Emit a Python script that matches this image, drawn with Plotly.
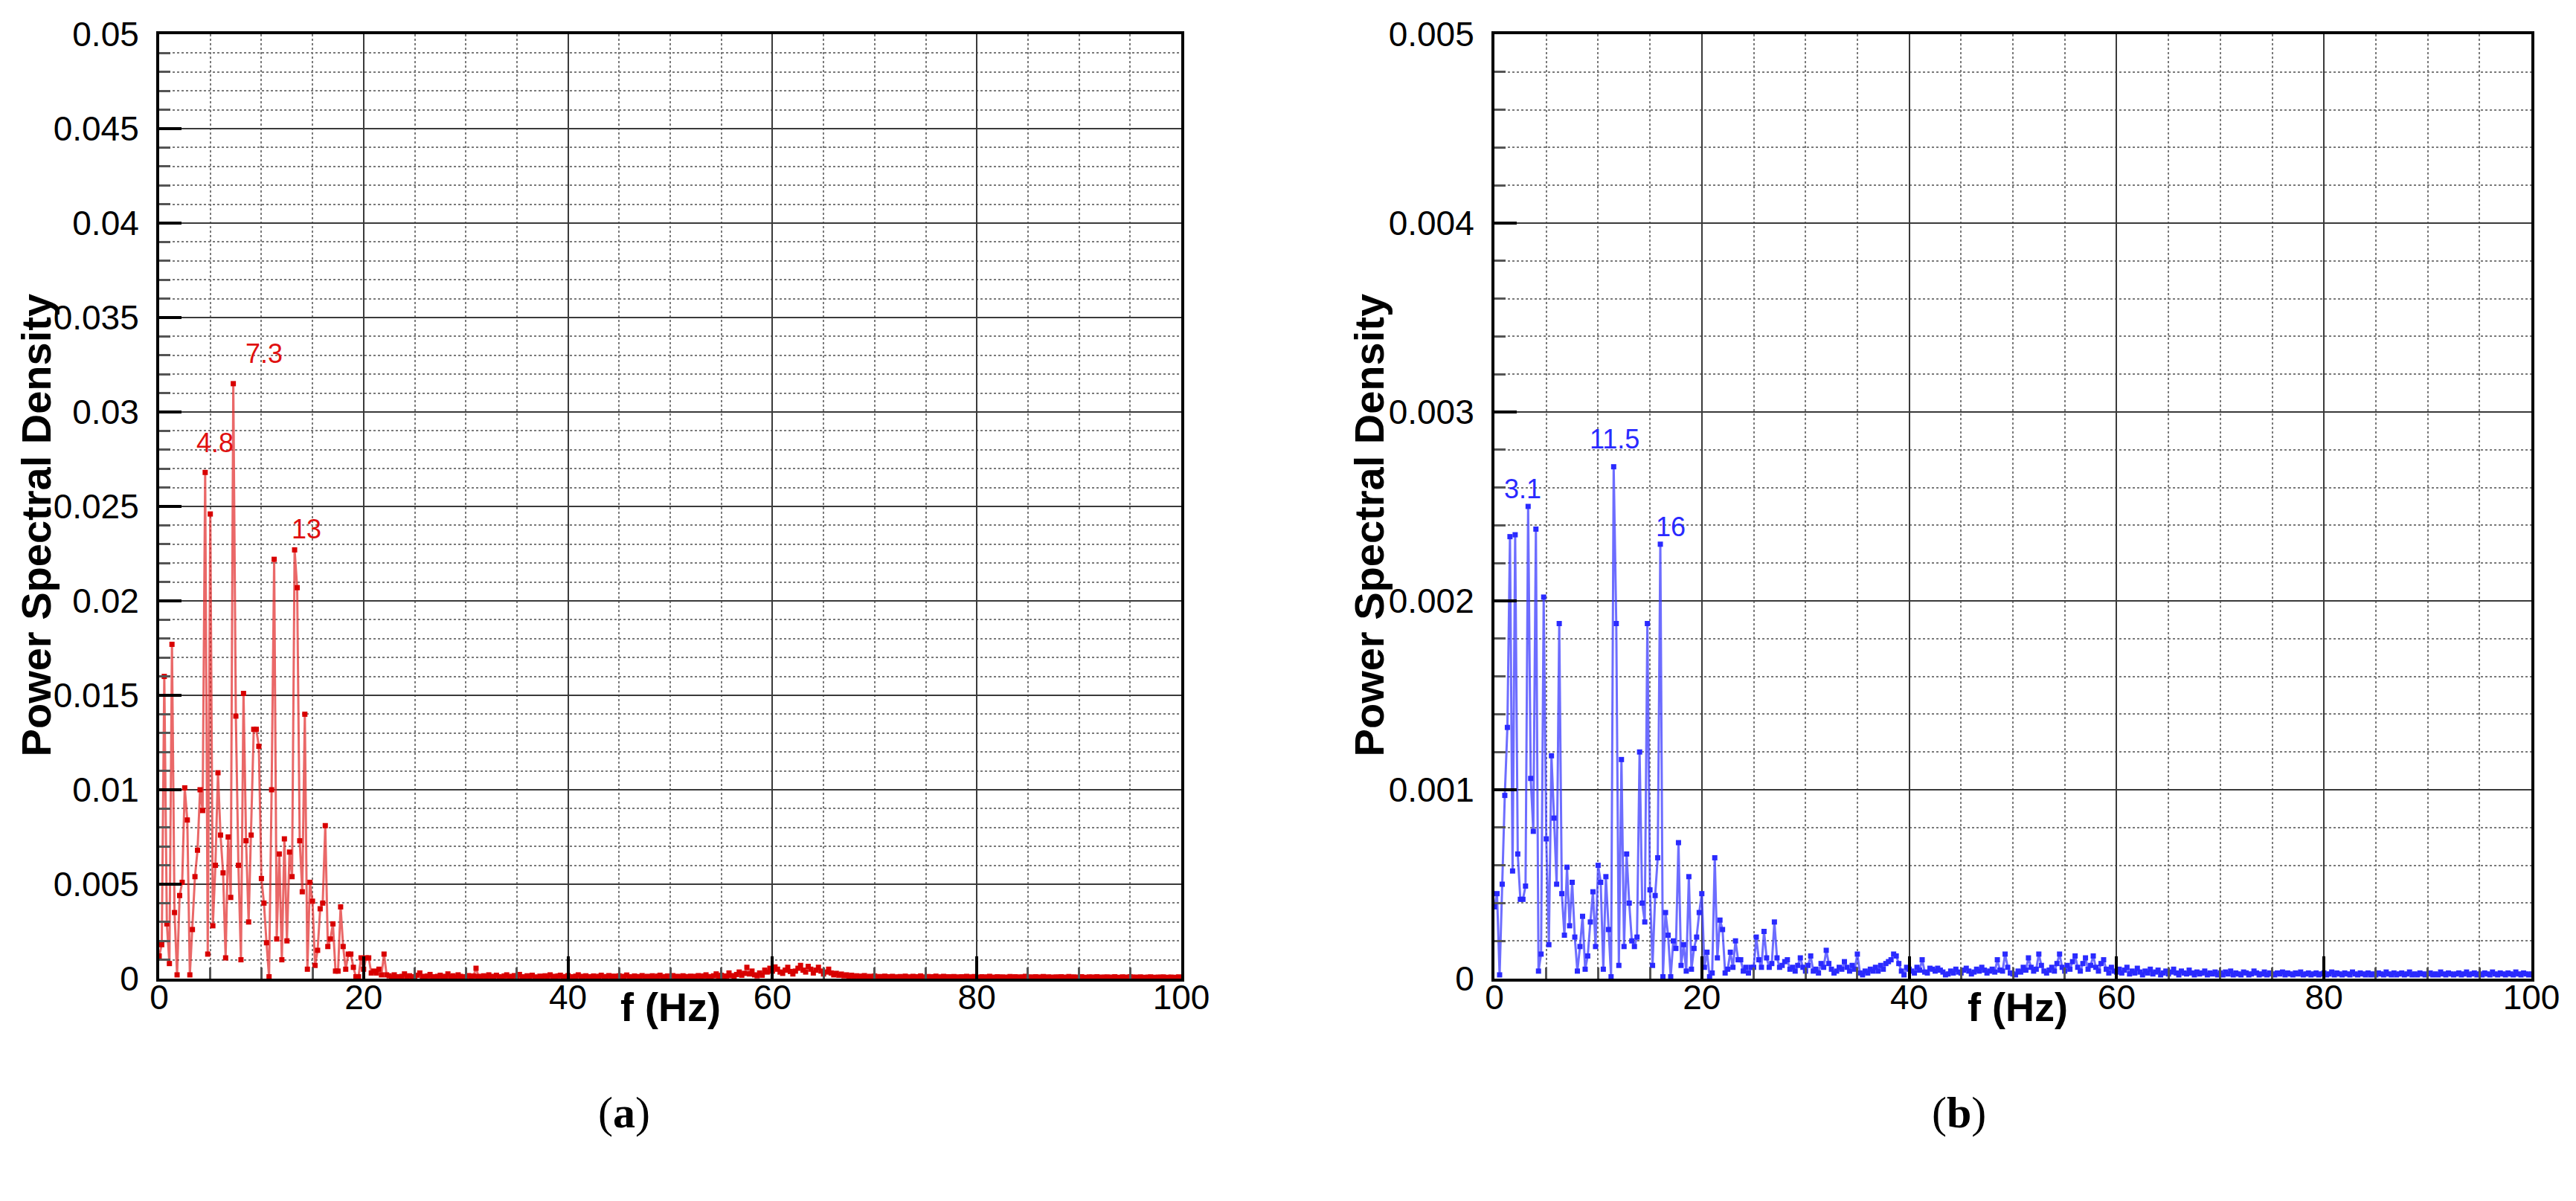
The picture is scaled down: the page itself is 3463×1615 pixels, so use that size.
import numpy as np
import plotly.graph_objects as go

# ---------------- data ----------------
DF_HZ = 0.25  # frequency resolution of the spectra (Hz)

# (a) PSD in units of 1e-5, bins of 0.25 Hz from 0 to 100 Hz
PSD_A_1E5 = [
    120, 180, 1600, 290, 80, 1770, 350, 20, 440, 510, 1010, 840, 20, 260, 540, 680, 1000, 890, 2680, 130,
    2460, 280, 600, 1090, 760, 560, 110, 750, 430, 3150, 1390, 600, 100, 1510, 730, 300, 760, 1320, 1320, 1230,
    530, 400, 190, 10, 1000, 2220, 210, 660, 100, 740, 200, 670, 540, 2270, 2070, 730, 460, 1400, 50, 510,
    410, 70, 150, 370, 400, 810, 170, 210, 290, 40, 40, 380, 170, 50, 130, 130, 60, 10, 10, 110,
    50, 110, 110, 30, 40, 30, 50, 20, 130, 20, 15, 8, 20, 10, 5, 12, 25, 8, 15, 10,
    6, 18, 30, 12, 8, 14, 22, 10, 6, 12, 18, 9, 12, 25, 10, 15, 8, 20, 12, 6,
    10, 16, 9, 14, 55, 12, 8, 15, 10, 20, 12, 8, 18, 10, 6, 14, 20, 9, 12, 16,
    8, 22, 10, 7, 15, 11, 18, 9, 6, 13, 10, 15, 8, 20, 12, 9, 14, 18, 7, 11,
    16, 10, 8, 13, 20, 9, 12, 15, 7, 10, 14, 8, 12, 18, 9, 11, 16, 7, 13, 10,
    15, 8, 12, 19, 10, 7, 14, 11, 9, 16, 8, 12, 10, 15, 7, 13, 18, 9, 11, 14,
    8, 16, 10, 12, 7, 15, 11, 9, 13, 10, 12, 16, 9, 14, 20, 11, 8, 15, 25, 12,
    18, 10, 14, 30, 16, 12, 22, 35, 18, 28, 60, 25, 40, 20, 15, 30, 18, 45, 35, 55,
    40, 62, 50, 35, 28, 45, 60, 38, 25, 40, 55, 70, 45, 35, 65, 50, 30, 45, 60, 40,
    25, 35, 50, 30, 20, 28, 18, 24, 15, 20, 12, 18, 10, 15, 9, 13, 16, 8, 12, 10,
    14, 7, 11, 9, 13, 8, 10, 12, 7, 9, 11, 8, 13, 9, 7, 12, 10, 8, 14, 9,
    6, 11, 8, 10, 13, 7, 9, 12, 8, 10, 7, 11, 9, 6, 10, 8, 12, 7, 9, 11,
    6, 8, 10, 7, 9, 12, 8, 6, 10, 7, 9, 6, 8, 11, 7, 10, 6, 9, 8, 12,
    7, 9, 6, 10, 8, 7, 11, 6, 9, 8, 6, 9, 7, 10, 8, 6, 11, 7, 9, 6,
    8, 10, 7, 6, 9, 8, 7, 10, 6, 8, 7, 9, 6, 8, 10, 6, 7, 9, 8, 6,
    10, 7, 8, 6, 9, 7, 6, 8, 9, 7, 6, 8, 7, 9, 6, 7, 8, 6, 7, 9,
    6,
]

# (b) PSD in units of 1e-6, bins of 0.25 Hz from 0 to 100 Hz
PSD_B_1E6 = [
    380, 450, 20, 500, 970, 1330, 2340, 570, 2350, 660, 420, 420, 490, 2500, 1060, 780, 2380, 40, 130, 2020,
    740, 180, 1180, 850, 500, 1880, 450, 230, 590, 280, 510, 220, 40, 170, 330, 50, 120, 300, 460, 170,
    600, 510, 50, 540, 260, 10, 2710, 1880, 70, 1160, 170, 660, 400, 200, 170, 220, 1200, 400, 300, 1880,
    470, 70, 440, 640, 2300, 10, 350, 230, 10, 200, 160, 720, 70, 180, 40, 540, 50, 160, 220, 350,
    450, 60, 140, 10, 30, 640, 110, 310, 260, 30, 50, 140, 60, 200, 100, 100, 40, 60, 30, 60,
    60, 220, 100, 60, 250, 110, 60, 80, 300, 110, 60, 70, 90, 100, 50, 60, 40, 70, 110, 60,
    40, 70, 120, 40, 50, 30, 80, 60, 150, 80, 50, 30, 40, 60, 50, 90, 60, 40, 70, 50,
    130, 30, 20, 40, 30, 50, 40, 60, 40, 70, 50, 80, 90, 100, 130, 120, 80, 40, 20, 60,
    50, 40, 30, 60, 45, 100, 35, 30, 55, 50, 40, 55, 45, 35, 20, 25, 40, 30, 50, 35,
    30, 45, 55, 40, 25, 35, 50, 40, 60, 45, 30, 40, 50, 35, 100, 45, 40, 130, 60, 30,
    25, 20, 40, 35, 60, 45, 110, 60, 40, 50, 130, 70, 40, 30, 45, 60, 40, 80, 130, 60,
    40, 70, 50, 90, 120, 60, 40, 80, 110, 50, 70, 120, 60, 40, 80, 100, 50, 30, 60, 40,
    35, 50, 30, 45, 60, 25, 40, 30, 55, 35, 20, 40, 30, 50, 25, 35, 45, 20, 30, 40,
    25, 35, 50, 30, 20, 40, 30, 25, 45, 30, 20, 35, 25, 30, 40, 20, 30, 25, 35, 20,
    30, 20, 35, 25, 40, 20, 30, 25, 20, 35, 30, 20, 25, 40, 30, 20, 25, 35, 20, 30,
    25, 20, 30, 25, 35, 20, 30, 25, 20, 30, 25, 35, 20, 25, 30, 20, 25, 30, 20, 25,
    30, 20, 25, 35, 20, 30, 25, 20, 30, 25, 20, 35, 25, 20, 30, 25, 20, 30, 20, 25,
    20, 30, 25, 20, 35, 25, 20, 30, 20, 25, 30, 20, 25, 35, 20, 25, 20, 30, 25, 20,
    25, 30, 20, 25, 20, 35, 25, 20, 30, 25, 20, 25, 30, 20, 25, 35, 20, 25, 30, 20,
    25, 20, 30, 25, 20, 35, 25, 20, 30, 25, 20, 30, 25, 20, 35, 25, 20, 30, 25, 20,
    25,
]

PEAK_IDX_A = [18, 29, 53]
PEAK_LABELS_A = ["4.8", "7.3", "13"]
PEAK_IDX_B = [13, 46, 64]
PEAK_LABELS_B = ["3.1", "11.5", "16"]

X_TICKS = [0, 20, 40, 60, 80, 100]
X_TICK_TEXT = ["0", "20", "40", "60", "80", "100"]
Y_TICKS_A = [0, 0.005, 0.01, 0.015, 0.02, 0.025, 0.03, 0.035, 0.04, 0.045, 0.05]
Y_TICK_TEXT_A = ["0", "0.005", "0.01", "0.015", "0.02", "0.025", "0.03", "0.035", "0.04", "0.045", "0.05"]
Y_TICKS_B = [0, 0.001, 0.002, 0.003, 0.004, 0.005]
Y_TICK_TEXT_B = ["0", "0.001", "0.002", "0.003", "0.004", "0.005"]

X_TITLE = "f (Hz)"
Y_TITLE = "Power Spectral Density"
CAPTIONS = ["(<b>a</b>)", "(<b>b</b>)"]

assert len(PSD_A_1E5) == 401, len(PSD_A_1E5)
assert len(PSD_B_1E6) == 401, len(PSD_B_1E6)

freq = np.arange(401) * DF_HZ
psd_a = np.array(PSD_A_1E5) * 1e-5
psd_b = np.array(PSD_B_1E6) * 1e-6

# ---------------- figure ----------------
W, H = 3463, 1615
FONT = "Liberation Sans, Arial, sans-serif"
RED_LINE = "rgba(225,40,40,0.7)"
RED_MK = "#d80000"
BLUE_LINE = "rgba(60,60,255,0.75)"
BLUE_MK = "#2a2aff"

fig = go.Figure()
fig.add_trace(go.Scatter(
    x=freq, y=psd_a, mode="lines+markers", xaxis="x", yaxis="y",
    line=dict(color=RED_LINE, width=3),
    marker=dict(symbol="square", size=7, color=RED_MK),
    showlegend=False, hoverinfo="x+y"))
fig.add_trace(go.Scatter(
    x=freq, y=psd_b, mode="lines+markers", xaxis="x2", yaxis="y2",
    line=dict(color=BLUE_LINE, width=3),
    marker=dict(symbol="square", size=7, color=BLUE_MK),
    showlegend=False, hoverinfo="x+y"))

y_dom = [(H - 1316) / H, (H - 46) / H]
x_dom_a = [214 / W, 1588 / W]
x_dom_b = [2009 / W, 3403 / W]

GRID_MAJOR = "#3a3a3a"
GRID_MINOR = "#7a7a7a"


def xaxis_cfg(domain, anchor):
    return dict(
        domain=domain, anchor=anchor, range=[0, 100], automargin=False,
        tickvals=X_TICKS, ticktext=X_TICK_TEXT,
        ticks="inside", ticklen=30, tickwidth=4, tickcolor="black",
        showline=True, linewidth=4, linecolor="black", mirror=True,
        showgrid=True, gridcolor=GRID_MAJOR, gridwidth=2,
        zeroline=False,
        tickfont=dict(family=FONT, size=46, color="black"),
        ticklabelstandoff=-18,
        minor=dict(dtick=5, ticks="inside", ticklen=15, tickwidth=3, tickcolor="#555555",
                   showgrid=True, gridcolor=GRID_MINOR, gridwidth=2, griddash="dot"),
    )


def yaxis_cfg(domain, anchor, tickvals, ticktext, rng, minor_dtick):
    return dict(
        domain=domain, anchor=anchor, range=rng, automargin=False,
        tickvals=tickvals, ticktext=ticktext,
        ticks="inside", ticklen=30, tickwidth=4, tickcolor="black",
        showline=True, linewidth=4, linecolor="black", mirror=True,
        showgrid=True, gridcolor=GRID_MAJOR, gridwidth=2,
        zeroline=False,
        tickfont=dict(family=FONT, size=46, color="black"),
        ticklabelstandoff=14,
        minor=dict(dtick=minor_dtick, tick0=0, ticks="inside", ticklen=15, tickwidth=3,
                   tickcolor="#555555", showgrid=True, gridcolor=GRID_MINOR, gridwidth=2,
                   griddash="dot"),
    )


annotations = []

# peak labels
for idx, lab, (dx, dy) in zip(PEAK_IDX_A, PEAK_LABELS_A, [(13, 17), (41, 18), (16, 5)]):
    annotations.append(dict(x=freq[idx], y=psd_a[idx], xref="x", yref="y", text=lab,
                            showarrow=False, xanchor="center", yanchor="bottom",
                            xshift=dx, yshift=dy,
                            font=dict(family=FONT, size=36, color="#e01010")))
for idx, lab, (dx, dy) in zip(PEAK_IDX_B, PEAK_LABELS_B, [(-7, 1), (1, 15), (14, 1)]):
    annotations.append(dict(x=freq[idx], y=psd_b[idx], xref="x2", yref="y2", text=lab,
                            showarrow=False, xanchor="center", yanchor="bottom",
                            xshift=dx, yshift=dy,
                            font=dict(family=FONT, size=36, color="#2a2aff")))

# axis titles
for xref, xpos in [("x domain", 0.5), ("x2 domain", 0.505)]:
    annotations.append(dict(x=xpos, y=(H - 1354) / H, xref=xref, yref="paper", text="<b>" + X_TITLE + "</b>",
                            showarrow=False, xanchor="center", yanchor="middle",
                            font=dict(family=FONT, size=54, color="black")))
for xpos in [48 / W, 1840 / W]:
    annotations.append(dict(x=xpos, y=y_dom[0] + 0.48 * (y_dom[1] - y_dom[0]), xref="paper", yref="paper",
                            text="<b>" + Y_TITLE + "</b>", textangle=-90,
                            showarrow=False, xanchor="center", yanchor="middle",
                            font=dict(family=FONT, size=56, color="black")))

# captions
for xpos, cap in zip([839 / W, 2633 / W], CAPTIONS):
    annotations.append(dict(x=xpos, y=(H - 1496) / H, xref="paper", yref="paper", text=cap,
                            showarrow=False, xanchor="center", yanchor="middle",
                            font=dict(family="Liberation Serif, Times New Roman, serif", size=60, color="black")))

fig.update_layout(
    width=W, height=H,
    margin=dict(l=0, r=0, t=0, b=0, autoexpand=False),
    paper_bgcolor="white", plot_bgcolor="white",
    xaxis=xaxis_cfg(x_dom_a, "y"),
    yaxis=yaxis_cfg(y_dom, "x", Y_TICKS_A, Y_TICK_TEXT_A, [0, 0.05], 0.001),
    xaxis2=xaxis_cfg(x_dom_b, "y2"),
    yaxis2=yaxis_cfg(y_dom, "x2", Y_TICKS_B, Y_TICK_TEXT_B, [0, 0.005], 0.0002),
    annotations=annotations,
    showlegend=False,
)

fig.write_html("out.html",
               config={"displayModeBar": False},
               post_script="document.body.style.margin='0px';document.body.style.overflow='hidden';")
